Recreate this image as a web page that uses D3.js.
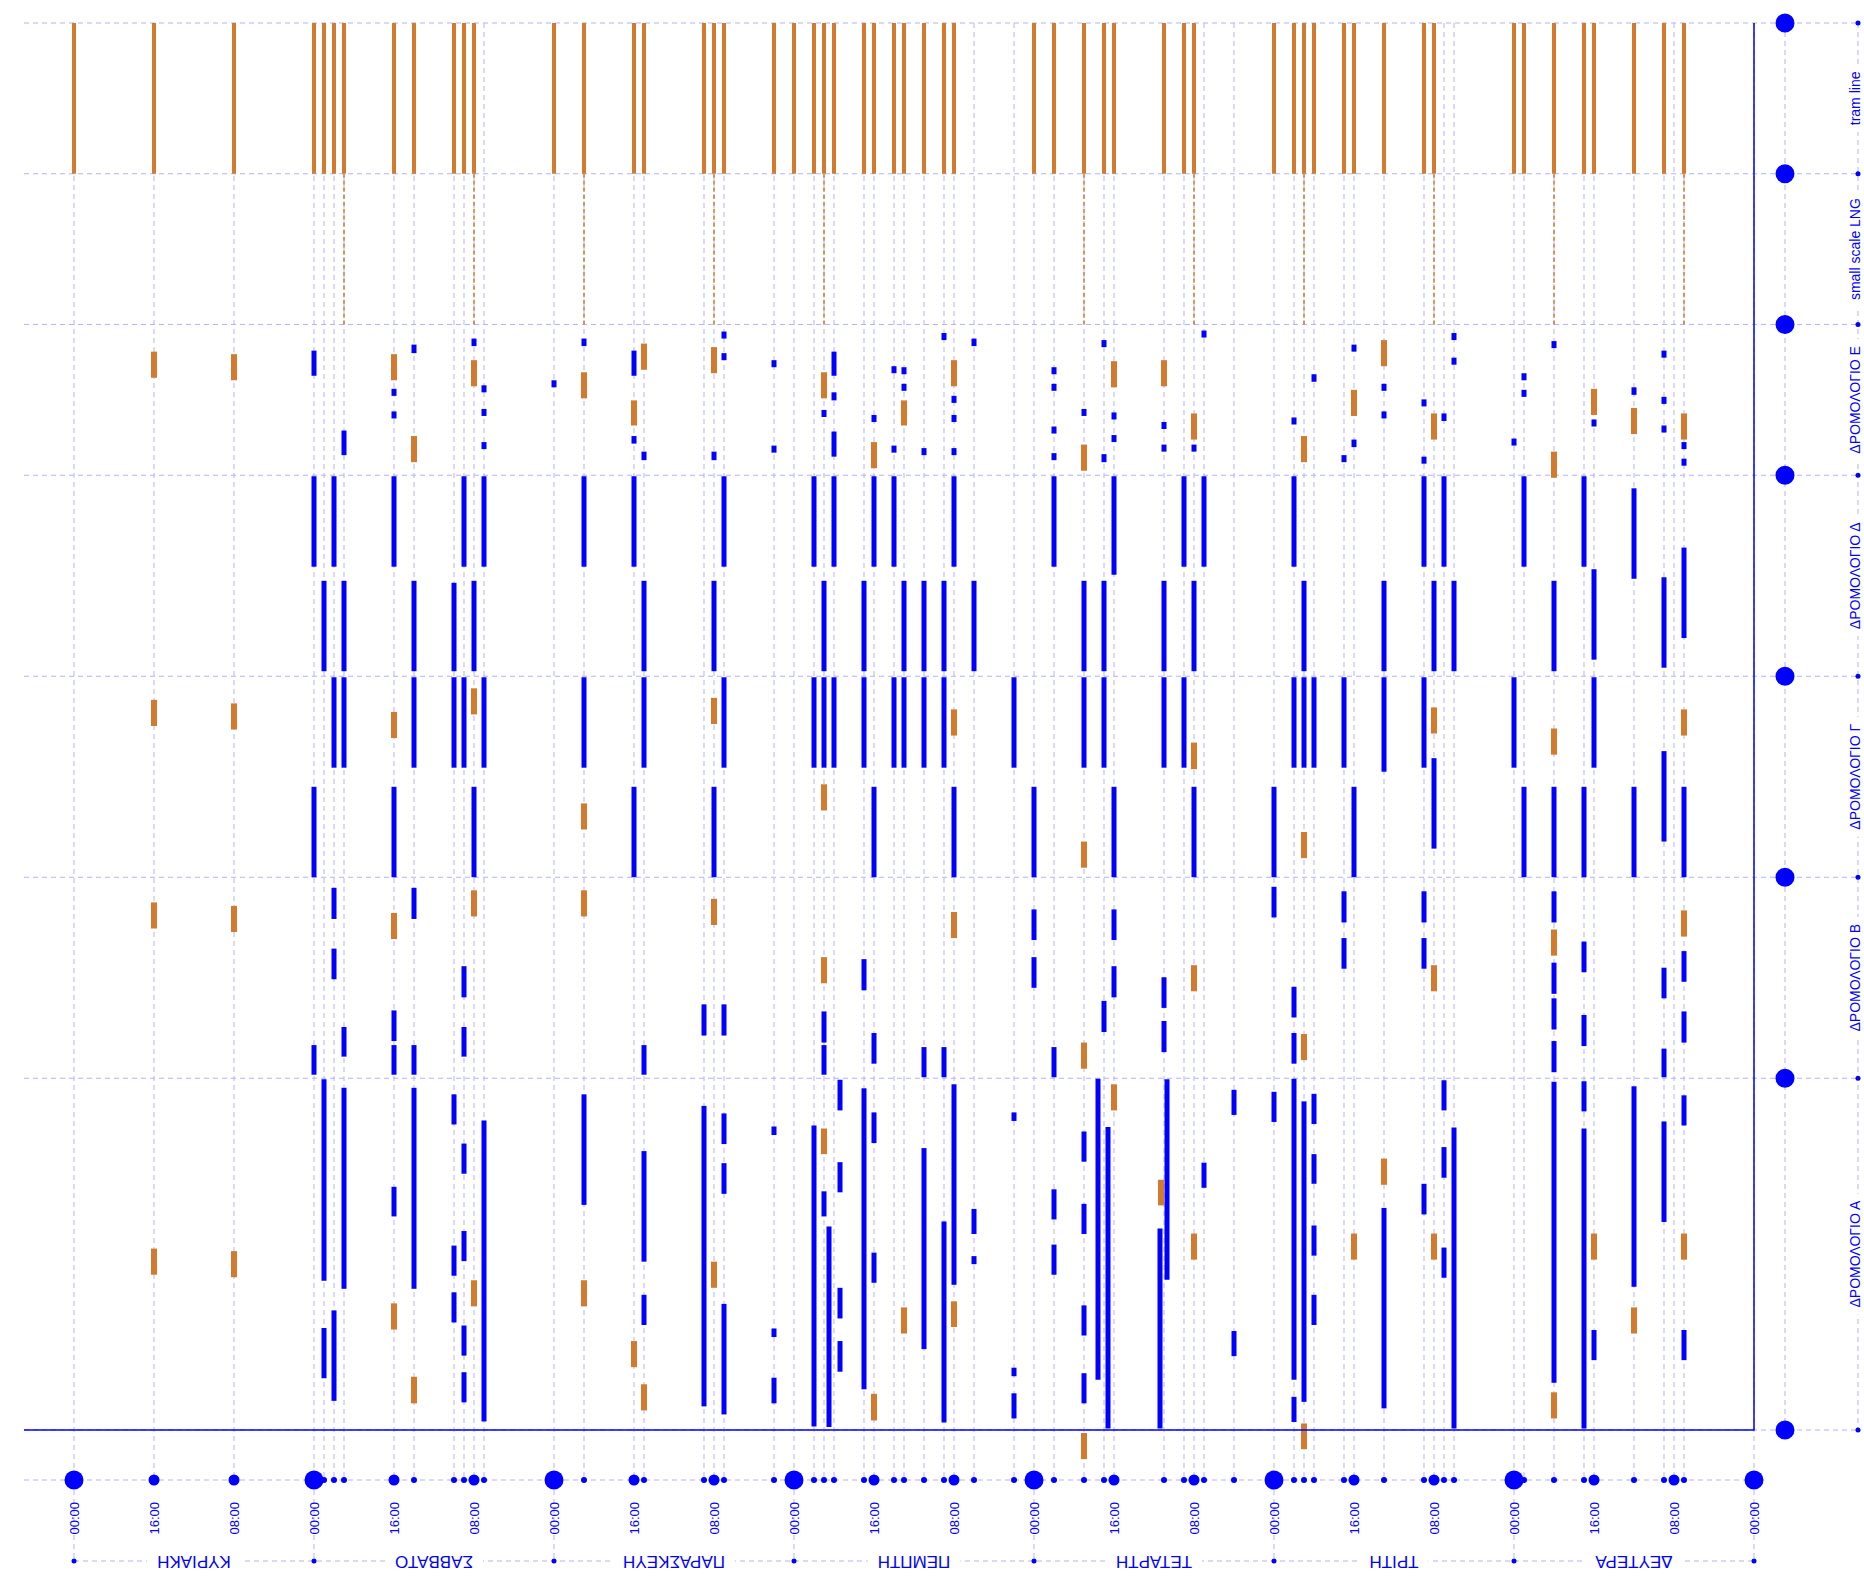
<!DOCTYPE html>
<html>
<head>
<meta charset="utf-8">
<script src="https://cdn.jsdelivr.net/npm/d3@7"></script>
<style>
  body { margin: 0; background: #fff; }
  svg { display: block; }
  text { font-family: "Liberation Sans", Arial, sans-serif; fill: #0000ff; }
</style>
</head>
<body>
<svg id="chart" width="1864" height="1588"></svg>
<script>
// days run right to left, Monday first
const days = ["ΔΕΥΤΕΡΑ", "ΤΡΙΤΗ", "ΤΕΤΑΡΤΗ", "ΠΕΜΠΤΗ", "ΠΑΡΑΣΚΕΥΗ", "ΣΑΒΒΑΤΟ", "ΚΥΡΙΑΚΗ"];
const tickLabels = ["00:00", "08:00", "16:00"];
const rows = ["tram line", "small scale LNG", "ΔΡΟΜΟΛΟΓΙΟ Ε", "ΔΡΟΜΟΛΟΓΙΟ Δ", "ΔΡΟΜΟΛΟΓΙΟ Γ", "ΔΡΟΜΟΛΟΓΙΟ Β", "ΔΡΟΜΟΛΟΓΙΟ Α"];
const rowSpan = [3, 3, 3, 4, 4, 4, 7];

// hours since Monday 00:00
const tramTimes = [7, 9, 12, 16, 17, 20, 23, 24, 32, 33, 37, 40, 41, 44, 45, 46, 48, 56, 57, 59, 64, 65, 67, 70, 72,
  80, 81, 83, 85, 86, 88, 89, 92, 93, 94, 96, 98, 103, 104, 105, 111, 112, 117, 120, 128, 129, 130, 134, 136,
  141, 142, 143, 144, 152, 160, 168];
const lngTimes = [7, 20, 32, 45, 56, 67, 93, 104, 117, 128, 141];
const eventTicks = [7, 9, 12, 17, 20, 23, 30, 31, 33, 37, 41, 44, 45, 46, 52, 55, 57, 59, 65, 67, 70, 74, 78, 81,
  83, 85, 86, 89, 92, 93, 94, 98, 103, 105, 111, 117, 127, 129, 130, 134, 141, 142, 143];

// [hour, from, to, kind]  from/to in row units, kind b = blue, o = orange
const routeE = [
  [160,0.54,1.06,"o"],[152,0.59,1.11,"o"],[144,0.52,1.02,"b"],[141,2.11,2.60,"b"],
  [136,0.59,1.11,"o"],[136,1.28,1.42,"b"],[136,1.73,1.87,"b"],
  [134,0.40,0.57,"b"],[134,2.22,2.74,"o"],
  [128,0.28,0.43,"b"],[128,0.71,1.23,"o"],
  [127,1.21,1.35,"b"],[127,1.68,1.82,"b"],[127,2.34,2.48,"b"],
  [120,1.11,1.25,"b"],
  [117,0.28,0.43,"b"],[117,0.95,1.47,"o"],
  [112,0.52,1.02,"b"],[112,1.51,2.01,"o"],[112,2.22,2.37,"b"],
  [111,0.38,0.90,"o"],[111,2.53,2.70,"b"],
  [104,0.45,0.97,"o"],[104,2.53,2.70,"b"],
  [103,0.14,0.28,"b"],[103,0.57,0.71,"b"],
  [98,0.71,0.85,"b"],[98,2.41,2.55,"b"],
  [93,0.95,1.47,"o"],[93,1.70,1.84,"b"],
  [92,0.54,1.02,"b"],[92,1.35,1.51,"b"],[92,2.13,2.63,"b"],
  [88,1.80,1.94,"b"],[88,2.34,2.86,"o"],
  [86,0.83,0.97,"b"],[86,2.41,2.55,"b"],
  [85,0.85,0.99,"b"],[85,1.18,1.32,"b"],[85,1.51,2.01,"o"],
  [83,2.46,2.60,"b"],
  [81,0.17,0.31,"b"],
  [80,0.71,1.23,"o"],[80,1.42,1.56,"b"],[80,1.80,1.94,"b"],[80,2.46,2.60,"b"],
  [78,0.28,0.43,"b"],
  [70,0.85,0.99,"b"],[70,1.18,1.32,"b"],[70,2.03,2.17,"b"],[70,2.56,2.70,"b"],
  [67,1.68,1.82,"b"],[67,2.39,2.91,"o"],
  [65,0.31,0.45,"b"],[65,2.58,2.74,"b"],
  [64,0.73,1.25,"o"],[64,1.75,1.89,"b"],[64,2.20,2.34,"b"],
  [59,0.71,1.23,"o"],[59,1.94,2.08,"b"],[59,2.39,2.53,"b"],
  [56,1.77,2.29,"o"],[56,2.39,2.53,"b"],
  [55,0.12,0.26,"b"],
  [46,1.85,1.99,"b"],
  [45,2.22,2.74,"o"],
  [44,0.99,1.14,"b"],
  [41,2.60,2.74,"b"],
  [40,0.40,0.54,"b"],[40,1.30,1.82,"o"],[40,2.29,2.44,"b"],
  [37,0.31,0.83,"o"],[37,1.18,1.32,"b"],[37,1.73,1.87,"b"],
  [33,1.49,1.63,"b"],[33,2.63,2.77,"b"],
  [32,1.77,2.29,"o"],
  [31,1.77,1.92,"b"],
  [30,0.17,0.31,"b"],[30,0.66,0.80,"b"],
  [24,2.27,2.41,"b"],
  [23,0.97,1.11,"b"],[23,1.30,1.44,"b"],
  [20,0.33,0.47,"b"],[20,2.53,3.05,"o"],
  [16,1.28,1.80,"o"],[16,1.89,2.03,"b"],
  [12,1.25,1.40,"b"],[12,1.66,2.18,"o"],
  [9,0.52,0.66,"b"],[9,1.44,1.58,"b"],[9,2.01,2.15,"b"],
  [7,1.77,2.29,"o"],[7,2.34,2.48,"b"],[7,2.67,2.81,"b"]
];

const routeD = [
  [144,0.02,1.82,"b"],[142,0.02,1.82,"b"],[136,0.02,1.82,"b"],[129,0.02,1.82,"b"],[127,0.02,1.82,"b"],
  [117,0.02,1.82,"b"],[112,0.02,1.82,"b"],[103,0.02,1.82,"b"],[94,0.02,1.82,"b"],[92,0.02,1.82,"b"],
  [88,0.02,1.82,"b"],[86,0.02,1.82,"b"],[80,0.02,1.82,"b"],[70,0.02,1.82,"b"],[64,0.02,1.98,"b"],
  [57,0.02,1.82,"b"],[55,0.02,1.82,"b"],[46,0.02,1.82,"b"],[33,0.02,1.82,"b"],[31,0.02,1.82,"b"],
  [23,0.02,1.82,"b"],[17,0.02,1.82,"b"],[12,0.26,2.06,"b"],[7,1.44,3.24,"b"],
  [143,2.10,3.90,"b"],[141,2.10,3.90,"b"],[134,2.10,3.90,"b"],[130,2.14,3.90,"b"],[128,2.10,3.90,"b"],
  [111,2.10,3.90,"b"],[104,2.10,3.90,"b"],[93,2.10,3.90,"b"],[89,2.10,3.90,"b"],[85,2.10,3.90,"b"],
  [83,2.10,3.90,"b"],[81,2.10,3.90,"b"],[78,2.10,3.90,"b"],[67,2.10,3.90,"b"],[65,2.10,3.90,"b"],
  [59,2.10,3.90,"b"],[56,2.10,3.90,"b"],[45,2.10,3.90,"b"],[37,2.10,3.90,"b"],[32,2.10,3.90,"b"],
  [30,2.10,3.90,"b"],[20,2.10,3.90,"b"],[16,1.87,3.67,"b"],[9,2.03,3.83,"b"]
];

const routeG = [
  [160,0.47,0.99,"o"],[152,0.54,1.06,"o"],[136,0.71,1.23,"o"],[128,0.24,0.76,"o"],[104,0.43,0.95,"o"],
  [80,0.66,1.18,"o"],[56,1.32,1.85,"o"],[32,0.62,1.14,"o"],[20,1.04,1.56,"o"],[7,0.66,1.18,"o"],
  [117,2.53,3.05,"o"],[93,2.15,2.67,"o"],[67,3.29,3.81,"o"],[45,3.10,3.62,"o"],
  [142,0.02,1.82,"b"],[141,0.02,1.82,"b"],[134,0.02,1.82,"b"],[130,0.02,1.82,"b"],[129,0.02,1.82,"b"],
  [127,0.02,1.82,"b"],[117,0.02,1.82,"b"],[111,0.02,1.82,"b"],[103,0.02,1.82,"b"],[94,0.02,1.82,"b"],
  [93,0.02,1.82,"b"],[92,0.02,1.82,"b"],[89,0.02,1.82,"b"],[86,0.02,1.82,"b"],[85,0.02,1.82,"b"],
  [83,0.02,1.82,"b"],[81,0.02,1.82,"b"],[74,0.02,1.82,"b"],[67,0.02,1.82,"b"],[65,0.02,1.82,"b"],
  [59,0.02,1.82,"b"],[57,0.02,1.82,"b"],[46,0.02,1.82,"b"],[45,0.02,1.82,"b"],[44,0.02,1.82,"b"],
  [41,0.02,1.82,"b"],[37,0.02,1.90,"b"],[33,0.02,1.82,"b"],[24,0.02,1.82,"b"],[16,0.02,1.82,"b"],
  [9,1.49,3.29,"b"],[32,1.63,3.43,"b"],
  [144,2.20,4.00,"b"],[136,2.20,4.00,"b"],[128,2.20,4.00,"b"],[112,2.20,4.00,"b"],[104,2.20,4.00,"b"],
  [88,2.20,4.00,"b"],[80,2.20,4.00,"b"],[72,2.20,4.00,"b"],[64,2.20,4.00,"b"],[56,2.20,4.00,"b"],
  [48,2.20,4.00,"b"],[40,2.20,4.00,"b"],[23,2.20,4.00,"b"],[20,2.20,4.00,"b"],[17,2.20,4.00,"b"],
  [12,2.20,4.00,"b"],[7,2.20,4.00,"b"]
];

const routeB = [
  [160,0.50,1.02,"o"],[152,0.57,1.09,"o"],[136,0.71,1.23,"o"],[128,0.26,0.78,"o"],[117,0.26,0.78,"o"],
  [104,0.43,0.95,"o"],[93,1.59,2.11,"o"],[80,0.69,1.21,"o"],[67,3.29,3.81,"o"],[56,1.75,2.27,"o"],
  [45,3.12,3.64,"o"],[32,1.75,2.27,"o"],[20,1.04,1.56,"o"],[7,0.66,1.18,"o"],
  [144,3.34,3.93,"b"],
  [142,0.21,0.83,"b"],[142,1.42,2.03,"b"],
  [141,2.98,3.57,"b"],
  [136,2.65,3.26,"b"],[136,3.34,3.93,"b"],
  [134,0.21,0.83,"b"],[134,3.34,3.93,"b"],
  [129,1.77,2.39,"b"],[129,2.98,3.57,"b"],
  [111,3.34,3.93,"b"],
  [105,2.53,3.15,"b"],[103,2.53,3.15,"b"],
  [93,2.67,3.29,"b"],[93,3.34,3.93,"b"],
  [89,1.63,2.25,"b"],[88,3.10,3.71,"b"],
  [83,3.38,3.98,"b"],[81,3.38,3.98,"b"],
  [72,0.64,1.25,"b"],[72,1.59,2.20,"b"],
  [70,3.38,3.98,"b"],
  [65,2.46,3.08,"b"],
  [64,0.64,1.25,"b"],[64,1.77,2.39,"b"],
  [59,1.99,2.60,"b"],[59,2.86,3.48,"b"],
  [48,0.19,0.80,"b"],
  [46,2.18,2.79,"b"],[46,3.10,3.71,"b"],
  [41,0.28,0.90,"b"],[41,1.21,1.82,"b"],
  [33,0.28,0.90,"b"],[33,1.21,1.82,"b"],
  [20,0.28,0.90,"b"],[20,1.70,2.32,"b"],[20,2.41,3.03,"b"],[20,3.26,3.88,"b"],
  [17,1.28,1.89,"b"],[17,2.74,3.36,"b"],
  [9,1.80,2.41,"b"],[9,3.41,3.98,"b"],
  [7,1.47,2.08,"b"],[7,2.67,3.29,"b"]
];

const routeA = [
  [143,0.02,4.03,"b"],[143,4.97,5.97,"b"],
  [142,4.62,6.42,"b"],
  [141,0.19,4.19,"b"],
  [136,2.16,2.75,"b"],[136,4.48,5.00,"o"],
  [134,0.19,4.19,"b"],[134,5.94,6.47,"o"],
  [130,0.32,0.92,"b"],[130,3.33,3.93,"b"],[130,4.26,4.86,"b"],
  [129,1.30,1.90,"b"],[129,3.04,3.64,"b"],[129,4.92,5.52,"b"],[129,5.85,6.45,"b"],
  [128,4.02,4.54,"o"],
  [127,0.84,6.83,"b"],
  [160,3.39,3.91,"o"],[152,3.44,3.96,"o"],
  [117,0.32,2.52,"b"],[117,4.02,4.54,"o"],
  [112,5.23,5.75,"o"],
  [111,1.45,3.65,"b"],[111,4.31,4.91,"b"],[111,6.09,6.61,"o"],
  [105,0.55,6.53,"b"],
  [104,3.65,4.17,"o"],
  [103,0.70,1.31,"b"],[103,1.69,2.30,"b"],[103,4.49,6.69,"b"],
  [98,0.96,1.13,"b"],[98,4.98,5.15,"b"],[98,5.96,6.47,"b"],
  [94,0.94,6.93,"b"],
  [93,1.00,1.51,"o"],[93,2.25,2.75,"b"],
  [92.5,2.95,6.94,"b"],
  [91.4,0.03,0.64,"b"],[91.4,1.67,2.27,"b"],[91.4,4.17,4.78,"b"],[91.4,5.23,5.84,"b"],
  [89,0.20,6.19,"b"],
  [88,0.68,1.29,"b"],[88,3.47,4.07,"b"],[88,6.28,6.81,"o"],
  [85,4.56,5.08,"o"],
  [83,1.39,5.39,"b"],
  [81,2.85,6.85,"b"],
  [80,0.12,4.11,"b"],[80,4.44,4.95,"o"],
  [78,2.60,3.10,"b"],[78,3.54,3.70,"b"],
  [74,0.68,0.85,"b"],[74,5.76,5.93,"b"],[74,6.27,6.77,"b"],
  [70,2.21,2.81,"b"],[70,3.31,3.91,"b"],
  [67,1.06,1.66,"b"],[67,2.50,3.10,"b"],[67,4.52,5.12,"b"],[67,5.87,6.47,"b"],[67,7.06,7.58,"o"],
  [65.6,0.01,6.00,"b"],
  [64.6,0.97,6.97,"b"],
  [64,0.12,0.64,"o"],
  [59.4,2.99,6.97,"b"],[59.3,2.02,2.53,"o"],
  [58.7,0.02,4.01,"b"],
  [56,3.09,3.61,"o"],
  [55,1.68,2.18,"b"],
  [52,0.23,0.73,"b"],[52,5.03,5.53,"b"],
  [48,0.27,0.87,"b"],
  [46,0.01,6.00,"b"],[46,6.34,6.84,"b"],
  [45,0.46,6.44,"b"],[45,6.87,7.38,"o"],
  [44,0.31,0.91,"b"],[44,1.51,2.10,"b"],[44,2.93,3.53,"b"],[44,4.31,4.91,"b"],
  [40,3.09,3.61,"o"],
  [37,1.60,2.12,"o"],[37,2.58,6.57,"b"],
  [33,2.10,2.71,"b"],
  [32,3.09,3.61,"o"],
  [31,0.04,0.64,"b"],[31,1.37,1.98,"b"],[31,3.37,3.97,"b"],
  [30,0.98,6.97,"b"],
  [20,0.07,6.06,"b"],[20,6.25,6.77,"o"],
  [17,0.06,0.66,"b"],[17,1.00,6.97,"b"],
  [16,3.09,3.61,"o"],[16,5.01,5.61,"b"],
  [12,0.16,4.15,"b"],[12,4.56,5.08,"o"],
  [9,0.86,2.86,"b"],
  [7,0.34,0.94,"b"],[7,3.09,3.61,"o"],[7,5.01,5.61,"b"]
];

const routes = [null, null, routeE, routeD, routeG, routeB, routeA];

// ---------------------------------------------------------------
const BLUE = "#0000ff";
const ORANGE = "#d27b2e";
const GRID = "#b3b3ff";

const svg = d3.select("#chart");

const x = d3.scaleLinear().domain([0, 173]).range([1754, 24]);
const totalUnits = d3.sum(rowSpan);
const y = d3.scaleLinear().domain([0, totalUnits]).range([23, 1430]);
const rowStart = rowSpan.map((s, i) => d3.sum(rowSpan.slice(0, i)));

const plotLeft = x(173), plotRight = x(0);
const dotX = 1785, labelX = 1858;
const timeY = 1480, dayY = 1561;

const majors = d3.range(0, 169, 8);
const allTicks = Array.from(new Set(majors.concat(eventTicks))).sort((a, b) => a - b);

const grid = svg.append("g").attr("stroke", GRID).attr("stroke-dasharray", "5,4").attr("fill", "none");

// vertical grid lines
grid.selectAll("line.v")
  .data(allTicks)
  .join("line")
  .attr("x1", d => x(d)).attr("x2", d => x(d))
  .attr("y1", y(0))
  .attr("y2", d => d % 24 === 0 ? dayY : timeY);

// row boundaries
const bounds = rowSpan.map((s, i) => rowStart[i]).concat([totalUnits]);
grid.selectAll("line.h")
  .data(bounds)
  .join("line")
  .attr("x1", plotLeft).attr("x2", labelX)
  .attr("y1", d => y(d)).attr("y2", d => y(d));

// right hand vertical axes
grid.append("line").attr("x1", dotX).attr("x2", dotX).attr("y1", y(0)).attr("y2", y(totalUnits));
grid.append("line").attr("x1", labelX).attr("x2", labelX).attr("y1", y(0)).attr("y2", y(totalUnits));

// bottom axes lines
grid.append("line").attr("x1", plotLeft).attr("x2", plotRight).attr("y1", timeY).attr("y2", timeY);
grid.append("line").attr("x1", x(168)).attr("x2", x(0)).attr("y1", dayY).attr("y2", dayY);

// tram line row
svg.append("g").selectAll("line")
  .data(tramTimes)
  .join("line")
  .attr("x1", d => x(d)).attr("x2", d => x(d))
  .attr("y1", y(rowStart[0])).attr("y2", y(rowStart[0] + rowSpan[0]))
  .attr("stroke", ORANGE).attr("stroke-width", 4);

// small scale LNG row
svg.append("g").selectAll("line")
  .data(lngTimes)
  .join("line")
  .attr("x1", d => x(d)).attr("x2", d => x(d))
  .attr("y1", y(rowStart[1])).attr("y2", y(rowStart[1] + rowSpan[1]))
  .attr("stroke", ORANGE).attr("stroke-width", 1.5).attr("stroke-dasharray", "4,3");

// route bars
routes.forEach((list, i) => {
  if (!list) return;
  svg.append("g").selectAll("rect")
    .data(list)
    .join("rect")
    .attr("x", d => x(d[0]) - (d[3] === "o" ? 3 : 2.5))
    .attr("width", d => d[3] === "o" ? 6 : 5)
    .attr("y", d => y(rowStart[i] + d[1]))
    .attr("height", d => y(rowStart[i] + d[2]) - y(rowStart[i] + d[1]))
    .attr("fill", d => d[3] === "o" ? ORANGE : BLUE);
});

// frame
svg.append("path")
  .attr("d", `M${plotRight},${y(0)}V${y(totalUnits)}H${plotLeft}`)
  .attr("fill", "none").attr("stroke", BLUE).attr("stroke-width", 1.5);

// row boundary dots
svg.append("g").selectAll("circle")
  .data(bounds)
  .join("circle")
  .attr("cx", dotX).attr("cy", d => y(d)).attr("r", 9.5).attr("fill", BLUE);

svg.append("g").selectAll("circle")
  .data(bounds)
  .join("circle")
  .attr("cx", labelX).attr("cy", d => y(d)).attr("r", 2.5).attr("fill", BLUE);

// row labels, baseline kept just inside the right edge
const rowLab = svg.append("g").selectAll("g")
  .data(rows)
  .join("g")
  .attr("transform", (d, i) => `translate(${labelX},${y(rowStart[i] + rowSpan[i] / 2)}) rotate(-90)`);
rowLab.append("rect").attr("fill", "#fff");
rowLab.append("text")
  .attr("text-anchor", "middle")
  .attr("y", 2)
  .style("font-size", "14px")
  .text(d => d);
rowLab.each(function() {
  const g = d3.select(this);
  const w = g.select("text").node().getComputedTextLength();
  g.select("rect").attr("x", -w / 2 - 7).attr("y", -9).attr("width", w + 14).attr("height", 14);
});

// time axis dots
svg.append("g").selectAll("circle")
  .data(allTicks)
  .join("circle")
  .attr("cx", d => x(d)).attr("cy", timeY)
  .attr("r", d => d % 24 === 0 ? 9.5 : (d % 8 === 0 ? 5.5 : 3))
  .attr("fill", BLUE);

// time labels
svg.append("g").selectAll("text")
  .data(majors)
  .join("text")
  .attr("transform", d => `translate(${x(d)},${timeY + 22}) rotate(-90)`)
  .attr("text-anchor", "end")
  .attr("dominant-baseline", "central")
  .style("font-size", "13px")
  .text(d => tickLabels[(d % 24) / 8]);

// day axis
svg.append("g").selectAll("circle")
  .data(d3.range(0, 169, 24))
  .join("circle")
  .attr("cx", d => x(d)).attr("cy", dayY).attr("r", 2.5).attr("fill", BLUE);

const dayLab = svg.append("g").selectAll("g")
  .data(days)
  .join("g")
  .attr("transform", (d, i) => `translate(${x(i * 24 + 12)},${dayY}) rotate(180)`);
dayLab.append("rect").attr("fill", "#fff");
dayLab.append("text")
  .attr("text-anchor", "middle")
  .attr("dominant-baseline", "central")
  .style("font-size", "17px")
  .text(d => d);
dayLab.each(function() {
  const g = d3.select(this);
  const w = g.select("text").node().getComputedTextLength();
  g.select("rect").attr("x", -w / 2 - 10).attr("y", -10).attr("width", w + 20).attr("height", 20);
});
</script>
</body>
</html>
